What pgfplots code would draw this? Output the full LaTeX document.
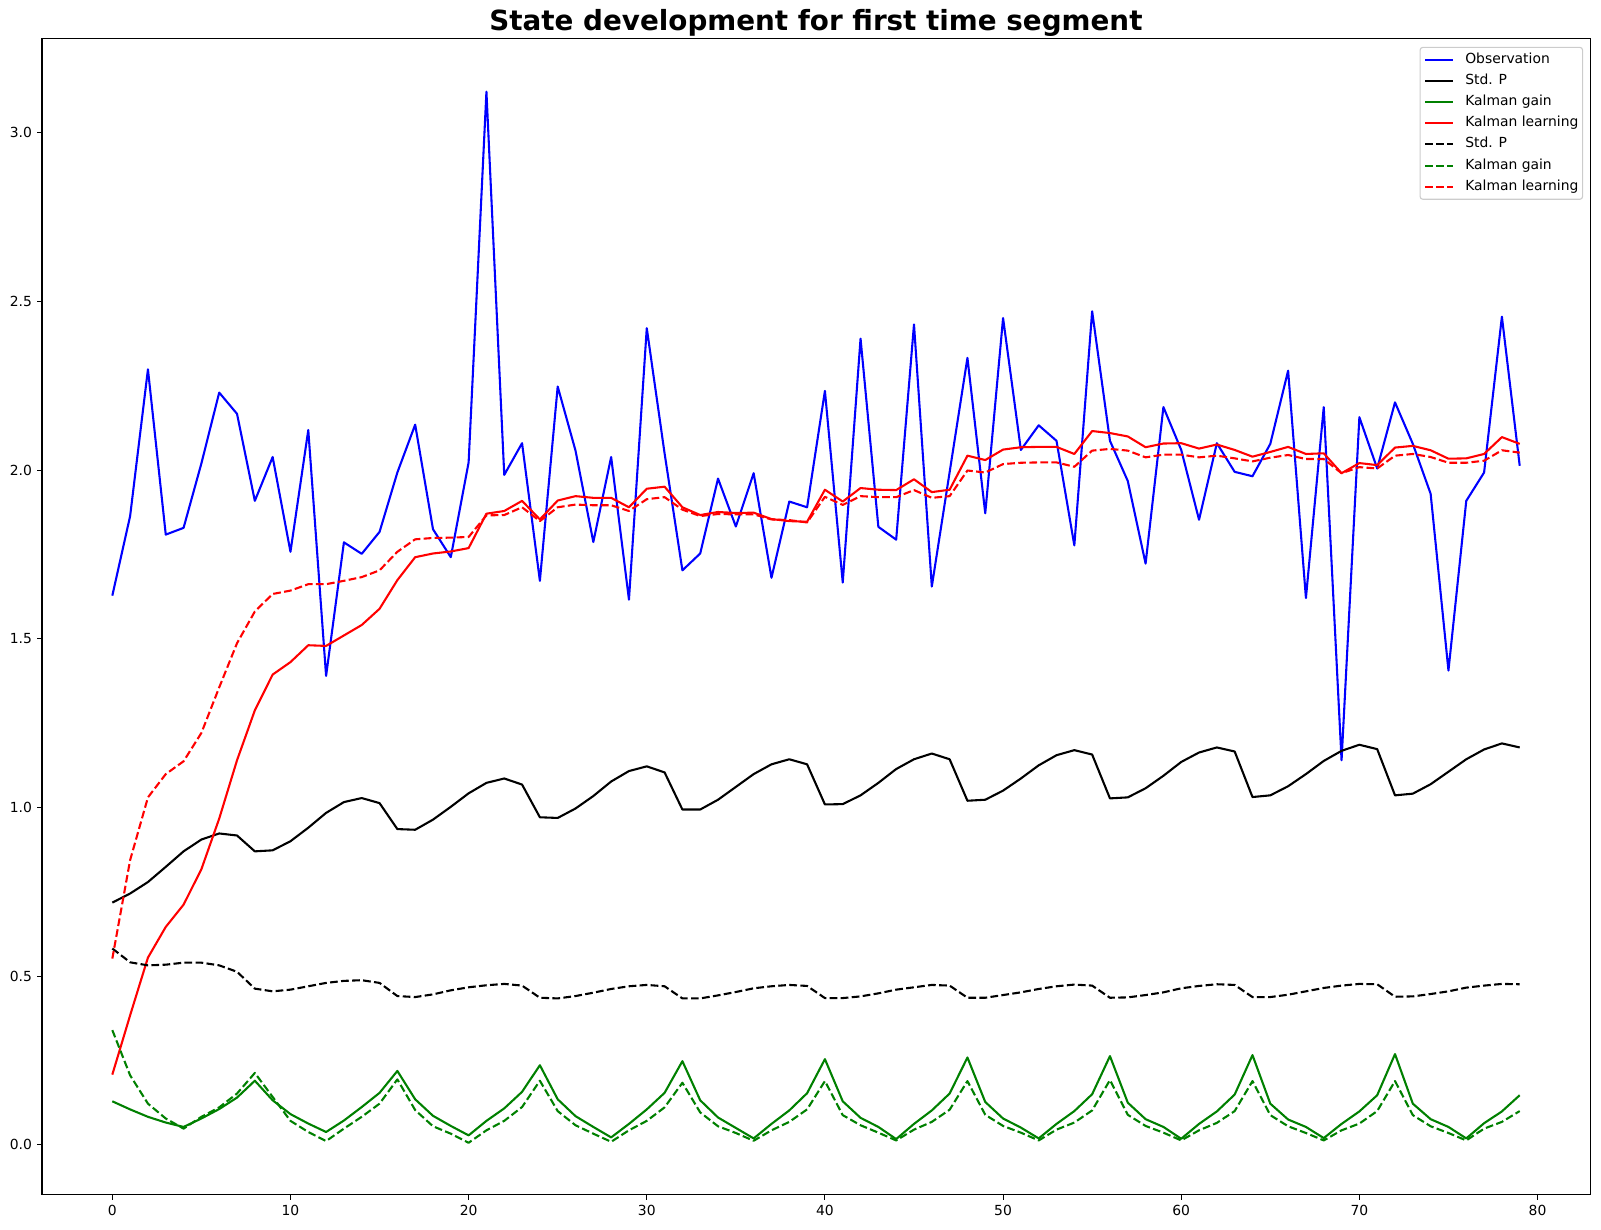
\documentclass[border=0pt]{standalone}
\usepackage{fontspec}
\setmainfont{DejaVu Sans}
\usepackage{pgfplots}
\usepackage{pgfplotstable}
\pgfplotsset{compat=1.18}
\definecolor{mplgreen}{rgb}{0,0.5,0}
\pgfplotstableread{
x obs sp kg kl spd kgd kld
0 1.628 0.718 0.129 0.208 0.582 0.340 0.552
1 1.864 0.745 0.105 0.384 0.541 0.206 0.844
2 2.299 0.779 0.083 0.555 0.532 0.122 1.030
3 1.809 0.824 0.066 0.646 0.534 0.078 1.099
4 1.829 0.870 0.053 0.712 0.540 0.048 1.137
5 2.020 0.905 0.078 0.817 0.540 0.083 1.221
6 2.230 0.923 0.106 0.967 0.532 0.111 1.356
7 2.167 0.917 0.140 1.140 0.513 0.152 1.487
8 1.909 0.870 0.190 1.288 0.463 0.213 1.581
9 2.039 0.873 0.132 1.394 0.455 0.142 1.633
10 1.758 0.900 0.091 1.431 0.460 0.071 1.643
11 2.119 0.940 0.063 1.481 0.470 0.038 1.662
12 1.390 0.984 0.038 1.479 0.480 0.011 1.662
13 1.786 1.016 0.072 1.510 0.486 0.048 1.672
14 1.752 1.028 0.112 1.541 0.488 0.083 1.683
15 1.817 1.013 0.154 1.589 0.480 0.122 1.703
16 1.993 0.936 0.219 1.674 0.441 0.194 1.758
17 2.135 0.934 0.135 1.742 0.438 0.103 1.795
18 1.825 0.964 0.086 1.753 0.446 0.055 1.799
19 1.742 1.002 0.056 1.759 0.458 0.033 1.800
20 2.023 1.042 0.028 1.769 0.467 0.006 1.802
21 3.122 1.073 0.071 1.871 0.473 0.043 1.866
22 1.986 1.086 0.108 1.879 0.477 0.071 1.867
23 2.080 1.068 0.157 1.909 0.472 0.112 1.890
24 1.672 0.971 0.236 1.854 0.436 0.190 1.849
25 2.248 0.969 0.135 1.910 0.434 0.100 1.890
26 2.058 0.997 0.085 1.923 0.441 0.058 1.898
27 1.787 1.034 0.053 1.918 0.451 0.033 1.896
28 2.039 1.077 0.022 1.918 0.462 0.009 1.896
29 1.616 1.108 0.062 1.890 0.470 0.043 1.879
30 2.421 1.122 0.105 1.945 0.474 0.071 1.914
31 2.050 1.104 0.154 1.951 0.470 0.111 1.920
32 1.703 0.994 0.248 1.890 0.434 0.184 1.883
33 1.753 0.994 0.132 1.867 0.434 0.096 1.864
34 1.975 1.023 0.081 1.876 0.443 0.055 1.870
35 1.833 1.061 0.050 1.873 0.453 0.035 1.869
36 1.991 1.099 0.019 1.874 0.464 0.012 1.869
37 1.681 1.128 0.062 1.855 0.470 0.043 1.854
38 1.907 1.143 0.102 1.849 0.474 0.068 1.852
39 1.890 1.128 0.153 1.847 0.471 0.105 1.845
40 2.235 1.009 0.254 1.942 0.435 0.189 1.921
41 1.667 1.010 0.129 1.907 0.435 0.088 1.897
42 2.390 1.036 0.080 1.947 0.440 0.058 1.923
43 1.832 1.073 0.053 1.942 0.449 0.036 1.920
44 1.794 1.114 0.017 1.941 0.460 0.013 1.920
45 2.432 1.143 0.062 1.973 0.467 0.045 1.941
46 1.655 1.160 0.102 1.935 0.474 0.068 1.918
47 1.994 1.143 0.152 1.942 0.472 0.104 1.923
48 2.333 1.020 0.259 2.043 0.436 0.189 1.999
49 1.872 1.023 0.127 2.030 0.436 0.089 1.993
50 2.451 1.050 0.078 2.061 0.444 0.056 2.018
51 2.060 1.086 0.051 2.068 0.452 0.036 2.022
52 2.133 1.125 0.019 2.069 0.462 0.013 2.023
53 2.087 1.155 0.062 2.069 0.470 0.045 2.023
54 1.777 1.170 0.100 2.048 0.475 0.066 2.010
55 2.471 1.157 0.150 2.116 0.472 0.102 2.058
56 2.087 1.027 0.263 2.110 0.436 0.192 2.063
57 1.968 1.030 0.125 2.100 0.437 0.089 2.058
58 1.723 1.057 0.076 2.068 0.444 0.056 2.038
59 2.187 1.094 0.053 2.079 0.452 0.036 2.046
60 2.060 1.135 0.018 2.080 0.464 0.013 2.046
61 1.853 1.163 0.062 2.064 0.471 0.043 2.038
62 2.080 1.178 0.099 2.076 0.476 0.065 2.043
63 1.995 1.166 0.149 2.060 0.474 0.100 2.035
64 1.982 1.031 0.266 2.040 0.438 0.189 2.026
65 2.078 1.036 0.122 2.054 0.438 0.088 2.037
66 2.295 1.063 0.075 2.069 0.445 0.055 2.045
67 1.621 1.099 0.053 2.048 0.455 0.035 2.033
68 2.187 1.138 0.020 2.050 0.465 0.013 2.033
69 1.140 1.168 0.062 1.991 0.472 0.043 1.991
70 2.157 1.186 0.099 2.021 0.477 0.063 2.009
71 2.005 1.173 0.147 2.015 0.476 0.100 2.005
72 2.201 1.036 0.269 2.067 0.439 0.189 2.043
73 2.078 1.041 0.122 2.072 0.440 0.088 2.048
74 1.930 1.069 0.076 2.059 0.447 0.055 2.039
75 1.406 1.106 0.053 2.034 0.455 0.035 2.022
76 1.909 1.143 0.019 2.035 0.466 0.013 2.022
77 1.993 1.172 0.064 2.048 0.472 0.048 2.028
78 2.455 1.190 0.099 2.098 0.477 0.068 2.059
79 2.013 1.178 0.147 2.078 0.476 0.100 2.052
}\datatable
\begin{document}
\begin{tikzpicture}
\useasboundingbox (-30.2pt,-24.8pt) rectangle (1122.5pt,860.2pt);
\begin{axis}[
  at={(0pt,0pt)}, anchor=south west,
  scale only axis, width=1114.6pt, height=832.3pt,
  xmin=-3.95, xmax=82.95, ymin=-0.148, ymax=3.279,
  xtick={0,10,20,30,40,50,60,70,80},
  ytick={0,0.5,1.0,1.5,2.0,2.5,3.0},
  /pgf/number format/assume math mode=true,
  yticklabel style={/pgf/number format/fixed, /pgf/number format/fixed zerofill, /pgf/number format/precision=1, inner sep=0pt, xshift=-3.5pt},
  xticklabel style={inner sep=0pt, yshift=-3.5pt},
  tick pos=left, tick align=outside, major tick length=3.5pt,
  every tick/.style={black, line width=0.8pt},
  axis line style={black, line width=0.8pt},
  ticklabel style={font=\fontsize{10}{12}\selectfont},
  title={State development for first time segment},
  title style={font=\bfseries\fontsize{20}{24}\selectfont, at={(0.5,1)}, anchor=base, yshift=0.2pt, inner sep=0pt},
  legend cell align=left,
  legend image code/.code={\draw[#1] (0pt,0pt) -- (20pt,0pt);},
  legend style={at={(1,1)}, anchor=north east, xshift=-5pt, yshift=-5.8pt,
    draw=black!20, line width=0.8pt, rounded corners=2pt, fill=white, fill opacity=0.8, text opacity=1, draw opacity=1,
    font=\fontsize{10}{12}\selectfont, inner xsep=3pt, inner ysep=4pt, row sep=5pt, column sep=8pt,
    nodes={inner sep=0pt, text height=7.6pt, text depth=2.6pt}},
  every axis plot/.append style={line width=1.5pt, line join=round},
  mydash/.style={dash pattern=on 5.55pt off 2.4pt},
]
\addplot[blue, no markers] table[x=x, y=obs] {\datatable};
\addlegendentry{Observation}
\addplot[black, no markers] table[x=x, y=sp] {\datatable};
\addlegendentry{Std. P}
\addplot[mplgreen, no markers] table[x=x, y=kg] {\datatable};
\addlegendentry{Kalman gain}
\addplot[red, no markers] table[x=x, y=kl] {\datatable};
\addlegendentry{Kalman learning}
\addplot[black, no markers, mydash] table[x=x, y=spd] {\datatable};
\addlegendentry{Std. P}
\addplot[mplgreen, no markers, mydash] table[x=x, y=kgd] {\datatable};
\addlegendentry{Kalman gain}
\addplot[red, no markers, mydash] table[x=x, y=kld] {\datatable};
\addlegendentry{Kalman learning}
\end{axis}
\end{tikzpicture}
\end{document}
